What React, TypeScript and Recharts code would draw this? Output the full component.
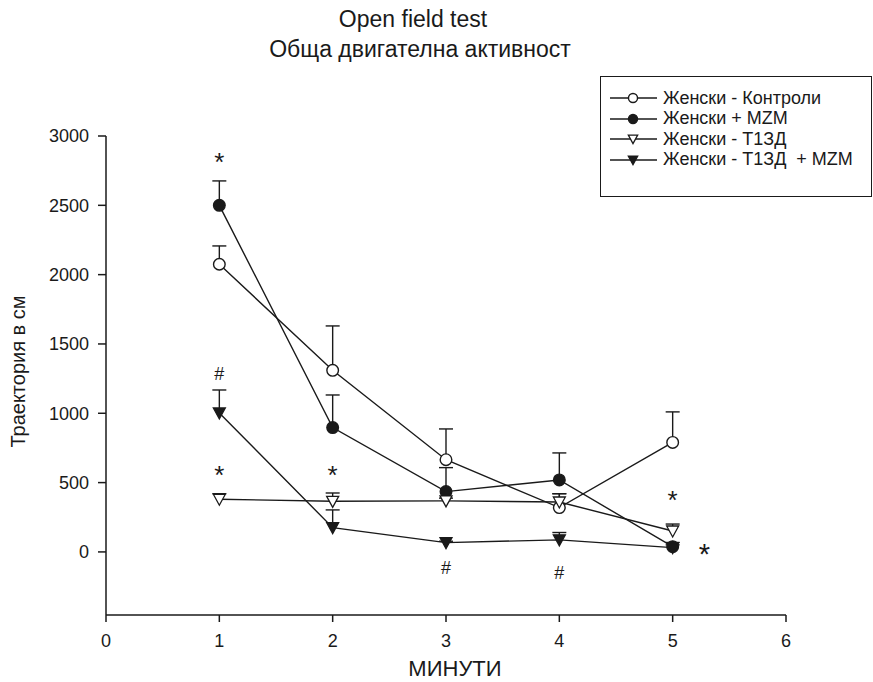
import React from 'react';
import { ComposedChart, Line, Scatter, XAxis, YAxis } from 'recharts';

const minutes = [1, 2, 3, 4, 5];
const controlMean = [2075, 1310, 665, 320, 790];
const controlErr = [132, 320, 222, 100, 220];
const mzmMean = [2500, 897, 435, 519, 38];
const mzmErr = [176, 235, 173, 195, 30];
const t1dMean = [380, 365, 368, 360, 151];
const t1dErr = [40, 60, 20, 60, 50];
const t1dMzmMean = [1002, 175, 67, 87, 31];
const t1dMzmErr = [166, 128, 10, 53, 20];

const xTicks = [0, 1, 2, 3, 4, 5, 6];
const yTicks = [0, 500, 1000, 1500, 2000, 2500, 3000];

// significance marks: x in minutes, y in cm
const markX = [1, 1, 1, 2, 3, 4, 5, 5.28];
const markY = [2856, 1284, 599, 599, -115, -151, 418, 29];
const markText = ['*', '#', '*', '*', '#', '#', '*', '*'];
const markBig = [false, false, false, false, false, false, false, true];

const FONT = '"Liberation Sans", Arial, sans-serif';
const INK = '#1a1a1a';

type Kind = 'openCircle' | 'fullCircle' | 'openTri' | 'fullTri';

const series = [
  { key: 'control', name: 'Женски - Контроли', mean: controlMean, err: controlErr, kind: 'openCircle' as Kind },
  { key: 'mzm', name: 'Женски + MZM', mean: mzmMean, err: mzmErr, kind: 'fullCircle' as Kind },
  { key: 't1d', name: 'Женски - Т1ЗД', mean: t1dMean, err: t1dErr, kind: 'openTri' as Kind },
  { key: 't1dmzm', name: 'Женски - Т1ЗД  + MZM', mean: t1dMzmMean, err: t1dMzmErr, kind: 'fullTri' as Kind },
];

const rows = minutes.map((m, i) => {
  const r: Record<string, number> = { x: m };
  series.forEach((s) => (r[s.key] = s.mean[i]));
  return r;
});

const errorSegments = series.flatMap((s) =>
  minutes.map((m, i) => ({
    id: `${s.key}-${i}`,
    pts: [
      { x: m, y: s.mean[i], cap: false },
      { x: m, y: s.mean[i] + s.err[i], cap: true },
    ],
  }))
);

const marks = markX.map((x, i) => ({ x, y: markY[i], t: markText[i], big: markBig[i] }));

function Marker({ cx, cy, kind, size = 1 }: { cx?: number; cy?: number; kind: Kind; size?: number }) {
  if (cx == null || cy == null) return null;
  if (kind === 'openCircle' || kind === 'fullCircle') {
    return (
      <circle cx={cx} cy={cy} r={5.8 * size} fill={kind === 'fullCircle' ? INK : '#fff'} stroke={INK} strokeWidth={1.4} />
    );
  }
  const a = 6 * size;
  const b = 5 * size;
  const pts = `${cx - a},${cy - b} ${cx + a},${cy - b} ${cx},${cy + a}`;
  return <polygon points={pts} fill={kind === 'fullTri' ? INK : '#fff'} stroke={INK} strokeWidth={1.3} />;
}

function CapShape(props: any) {
  const { cx, cy, payload } = props;
  if (!payload || !payload.cap) return <g />;
  return <line x1={cx - 7} x2={cx + 7} y1={cy} y2={cy} stroke={INK} strokeWidth={1.4} />;
}

function MarkShape(props: any) {
  const { cx, cy, payload } = props;
  const star = payload.t === '*';
  const big = payload.big;
  const size = star ? (big ? 29 : 26) : 18;
  const dy = star ? (big ? 16 : 15) : 6;
  return (
    <text x={cx} y={cy} dy={dy} textAnchor="middle" fontFamily={FONT} fontSize={size} fill={INK}>
      {payload.t}
    </text>
  );
}

function LegendBox() {
  return (
    <div
      style={{
        position: 'absolute',
        left: 600,
        top: 76,
        width: 270,
        height: 119,
        border: `1px solid ${INK}`,
        fontFamily: FONT,
        fontSize: 18,
        color: INK,
      }}
    >
      {series.map((s, i) => (
        <div
          key={s.key}
          style={{ position: 'absolute', left: 8, top: 11 + i * 20.5, height: 20, display: 'flex', alignItems: 'center' }}
        >
          <svg width={48} height={20}>
            <line x1={1} x2={48} y1={10} y2={10} stroke={INK} strokeWidth={1.4} />
            <Marker cx={24} cy={10} kind={s.kind} size={0.78} />
          </svg>
          <span style={{ marginLeft: 6, whiteSpace: 'pre' }}>{s.name}</span>
        </div>
      ))}
    </div>
  );
}

const textBase = { position: 'absolute' as const, textAlign: 'center' as const, fontFamily: FONT, color: INK, lineHeight: 1.15 };

export default function App() {
  return (
    <div style={{ position: 'absolute', left: 0, top: 0, width: 873, height: 682, background: '#fff' }}>
      <div style={{ ...textBase, left: 213, width: 400, top: 6, fontSize: 23 }}>Open field test</div>
      <div style={{ ...textBase, left: 220, width: 400, top: 36, fontSize: 23 }}>Обща двигателна активност</div>
      <LegendBox />
      <ComposedChart width={873} height={682} data={rows} margin={{ top: 136, right: 87, bottom: 0, left: 0 }}>
        <XAxis
          dataKey="x"
          type="number"
          domain={[0, 6]}
          ticks={xTicks}
          tickSize={7}
          tickMargin={12}
          height={67}
          axisLine={{ stroke: INK, strokeWidth: 1.5 }}
          tickLine={{ stroke: INK, strokeWidth: 1.5 }}
          tick={{ fill: INK, fontSize: 18, fontFamily: FONT }}
        />
        <YAxis
          type="number"
          domain={[-455, 3000]}
          allowDataOverflow
          ticks={yTicks}
          width={106}
          tickSize={8}
          tickMargin={9}
          axisLine={{ stroke: INK, strokeWidth: 1.5 }}
          tickLine={{ stroke: INK, strokeWidth: 1.5 }}
          tick={{ fill: INK, fontSize: 18, fontFamily: FONT }}
        />
        {errorSegments.map((seg) => (
          <Scatter
            key={seg.id}
            data={seg.pts}
            dataKey="y"
            line={{ stroke: INK, strokeWidth: 1.4 }}
            shape={CapShape}
            isAnimationActive={false}
          />
        ))}
        {series.map((s) => (
          <Line
            key={s.key}
            type="linear"
            dataKey={s.key}
            stroke={INK}
            strokeWidth={1.4}
            isAnimationActive={false}
            dot={(p: any) => <Marker key={`${s.key}-${p.index}`} cx={p.cx} cy={p.cy} kind={s.kind} />}
            activeDot={false}
          />
        ))}
        <Scatter data={marks} dataKey="y" shape={MarkShape} isAnimationActive={false} />
      </ComposedChart>
      <div style={{ ...textBase, left: 355, width: 200, top: 656, fontSize: 22 }}>МИНУТИ</div>
      <div
        style={{
          ...textBase,
          left: 18 - 110,
          width: 220,
          top: 372 - 12,
          fontSize: 20,
          transform: 'rotate(-90deg)',
        }}
      >
        Траектория в см
      </div>
    </div>
  );
}
